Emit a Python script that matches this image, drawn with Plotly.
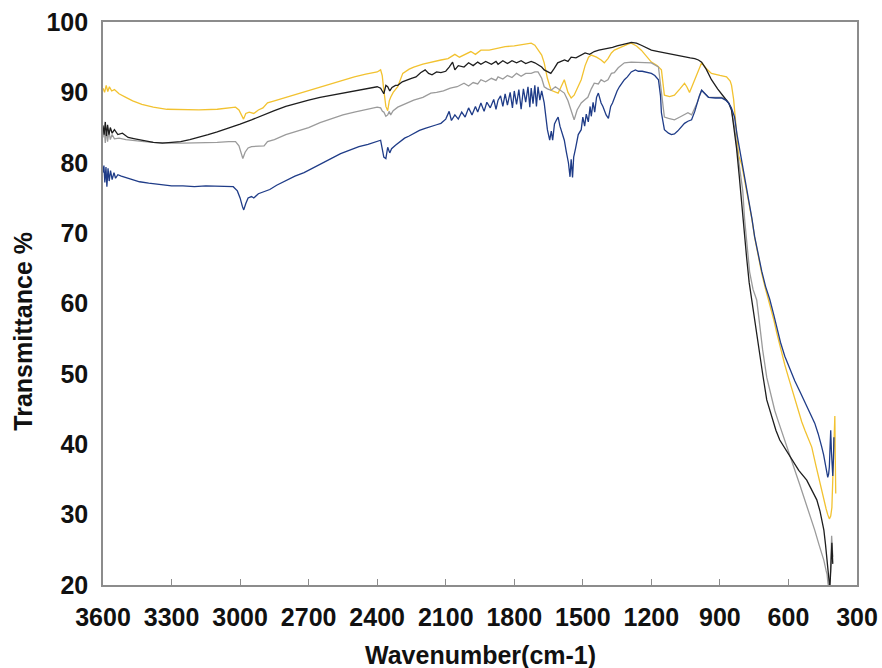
import plotly.graph_objects as go

# FTIR transmittance spectra of four samples (wavenumber in cm-1, transmittance in %)

wn_yellow = [3600, 3593, 3586, 3579, 3572, 3562, 3550, 3530, 3500, 3470, 3430, 3380, 3320, 3250, 3180,
             3100, 3050, 3020, 3005, 2992, 2985, 2975, 2960, 2940, 2920, 2900, 2880, 2850, 2800, 2750,
             2700, 2650, 2600, 2550, 2500, 2450, 2400, 2385, 2378, 2371, 2362, 2354, 2347, 2341, 2330,
             2310, 2298, 2288, 2260, 2240, 2200, 2165, 2121, 2090, 2060, 2040, 2020, 1990, 1970, 1946,
             1910, 1871, 1840, 1800, 1760, 1726, 1710, 1696, 1680, 1669, 1655, 1639, 1620, 1608, 1595,
             1581, 1565, 1551, 1538, 1520, 1507, 1490, 1475, 1463, 1440, 1420, 1406, 1390, 1375, 1362,
             1330, 1300, 1288, 1265, 1244, 1220, 1200, 1175, 1156, 1148, 1143, 1120, 1099, 1075, 1055,
             1045, 1033, 1020, 1000, 980, 960, 937, 900, 871, 855, 849, 840, 830, 818, 805,
             790, 774, 760, 748, 733, 717, 700, 682, 665, 651, 635, 616, 600, 586, 572,
             555, 542, 528, 510, 498, 480, 463, 446, 435, 428, 421, 415, 410, 405, 401,
             397, 395, 393]
t_yellow = [90.6, 90.0, 91.0, 90.1, 90.8, 90.2, 90.4, 89.8, 89.3, 88.8, 88.3, 87.9, 87.6, 87.5, 87.5,
            87.6, 87.8, 87.9, 87.5, 86.5, 86.2, 87.0, 87.2, 87.0, 87.5, 87.8, 88.5, 88.8, 89.3, 89.8,
            90.2, 90.8, 91.3, 91.8, 92.2, 92.6, 92.9, 93.2, 92.4, 90.3, 88.0, 87.4, 88.8, 89.3, 90.0,
            90.8, 92.0, 92.7, 93.3, 93.6, 94.0, 94.3, 94.6, 94.8, 95.4, 95.0, 95.3, 95.8, 95.4, 96.0,
            96.0, 96.3, 96.5, 96.6, 96.8, 97.0, 96.7, 96.0, 95.3, 94.2, 92.0, 90.3, 90.0, 89.9, 90.8,
            91.8, 90.0, 89.2, 89.6, 90.8, 91.8, 93.8, 95.0, 95.3, 95.0, 94.6, 94.2, 94.8, 95.6, 96.0,
            96.5, 96.9, 97.0, 96.6, 96.0, 95.0, 94.3, 93.8, 93.2, 91.0, 89.6, 89.4, 89.6, 90.5, 91.3,
            90.8, 90.0, 91.0, 92.6, 94.2, 93.4, 92.7, 92.4, 92.2, 91.6, 91.0, 89.0, 85.0, 81.0, 79.8,
            77.2, 74.7, 72.0, 69.4, 66.8, 64.3, 62.0, 60.0, 57.8, 55.8, 53.6, 51.3, 49.5, 48.0, 46.5,
            44.5, 43.2, 42.0, 40.5, 39.6, 37.0, 34.5, 32.0, 30.8, 30.0, 29.4, 29.8, 31.0, 36.0, 40.5,
            44.0, 38.0, 33.0]

wn_grey = [3600, 3595, 3590, 3585, 3580, 3574, 3568, 3560, 3550, 3530, 3500, 3460, 3420, 3380, 3340,
           3300, 3250, 3200, 3150, 3100, 3050, 3020, 3005, 2995, 2988, 2978, 2965, 2950, 2930, 2910,
           2895, 2880, 2850, 2800, 2750, 2700, 2650, 2600, 2550, 2500, 2450, 2400, 2385, 2377, 2371,
           2362, 2354, 2347, 2341, 2330, 2310, 2280, 2240, 2200, 2165, 2140, 2110, 2080, 2050, 2020,
           2000, 1980, 1960, 1946, 1925, 1900, 1880, 1871, 1850, 1830, 1810, 1790, 1770, 1750, 1726,
           1710, 1696, 1680, 1669, 1655, 1639, 1620, 1608, 1595, 1581, 1565, 1551, 1538, 1525, 1507,
           1490, 1478, 1463, 1450, 1432, 1420, 1406, 1390, 1375, 1362, 1345, 1318, 1288, 1257, 1230,
           1200, 1169, 1156, 1143, 1125, 1099, 1075, 1055, 1040, 1024, 1000, 980, 960, 950, 920,
           893, 870, 862, 850, 836, 825, 814, 800, 792, 781, 770, 755, 739, 726, 713,
           695, 673, 660, 647, 632, 616, 595, 572, 550, 528, 505, 485, 465, 445, 435,
           431, 427, 421, 416, 411, 406]
t_grey = [83.6, 85.0, 82.8, 84.8, 83.0, 84.5, 83.3, 84.0, 83.4, 83.5, 83.3, 83.1, 83.0, 82.9, 82.8,
          82.8, 82.8, 82.8, 82.8, 82.9, 83.0, 83.0, 82.4, 81.2, 80.6, 81.5, 82.1, 82.3, 82.3, 82.3,
          82.4, 83.0, 83.3, 84.0, 84.5, 85.0, 85.7, 86.3, 86.8, 87.2, 87.6, 87.9, 87.8, 87.3, 87.2,
          86.6, 86.8, 87.3, 86.8, 87.4, 87.9, 88.3, 88.9, 89.3, 89.9, 90.0, 90.2, 90.6, 90.8, 91.3,
          90.9, 91.4, 91.2, 91.8, 91.5, 92.0, 91.7, 92.2, 91.9, 92.4, 92.1, 92.7, 92.3, 92.7, 92.7,
          92.9, 92.9, 92.0, 90.8, 90.5, 90.3, 90.8, 90.5, 90.3, 89.9, 88.8, 87.5, 86.1, 87.5, 88.5,
          89.0, 89.3, 90.5, 91.3, 91.2, 91.8, 91.5, 91.8, 92.7, 92.8, 93.5, 94.2, 94.3, 94.3, 94.3,
          94.2, 93.6, 90.3, 86.5, 86.3, 86.1, 86.5, 86.9, 87.1, 86.8, 88.5, 90.3, 89.7, 89.3, 89.3,
          89.3, 88.9, 88.5, 87.5, 85.0, 82.0, 79.5, 76.0, 72.0, 68.0, 64.5, 62.0, 60.5, 57.0, 53.4,
          49.5, 46.3, 44.8, 43.5, 42.0, 40.6, 38.5, 36.3, 34.2, 32.1, 30.0, 27.8, 25.6, 23.5, 22.0,
          21.5, 20.2, 19.3, 22.0, 27.0, 24.0]

wn_black = [3600, 3595, 3590, 3585, 3580, 3574, 3568, 3560, 3550, 3535, 3515, 3490, 3460, 3420, 3380,
            3340, 3300, 3260, 3220, 3180, 3140, 3100, 3050, 3000, 2950, 2900, 2850, 2800, 2750, 2700,
            2650, 2600, 2550, 2500, 2450, 2400, 2385, 2377, 2371, 2362, 2354, 2345, 2335, 2320, 2310,
            2290, 2270, 2250, 2230, 2210, 2190, 2175, 2160, 2140, 2121, 2100, 2085, 2070, 2060, 2045,
            2020, 2000, 1980, 1960, 1946, 1925, 1900, 1880, 1871, 1850, 1830, 1810, 1790, 1770, 1750,
            1726, 1710, 1696, 1680, 1669, 1655, 1640, 1625, 1610, 1595, 1580, 1565, 1551, 1530, 1507,
            1490, 1470, 1450, 1430, 1410, 1390, 1370, 1350, 1330, 1300, 1288, 1265, 1244, 1220, 1200,
            1169, 1140, 1110, 1080, 1055, 1030, 1010, 994, 980, 960, 937, 910, 879, 860, 849,
            838, 827, 815, 805, 794, 783, 772, 761, 745, 730, 712, 695, 682, 669, 655,
            638, 612, 585, 555, 520, 498, 476, 462, 450, 445, 438, 431, 427, 423, 419,
            415, 410, 406]
t_black = [85.3, 84.0, 85.8, 83.8, 85.4, 84.0, 85.0, 84.2, 84.7, 84.0, 84.2, 83.6, 83.4, 83.1, 82.9,
           82.8, 82.9, 83.0, 83.3, 83.6, 84.0, 84.4, 84.9, 85.5, 86.1, 86.8, 87.4, 88.0, 88.5, 88.9,
           89.3, 89.6, 90.0, 90.3, 90.6, 90.8, 90.6, 90.0, 89.8, 91.0, 90.8, 90.2, 90.7, 91.0, 91.0,
           91.5, 91.8, 92.0, 92.2, 92.8, 93.2, 92.7, 92.5, 92.9, 92.8, 93.0, 93.6, 94.3, 93.2, 93.8,
           93.6, 94.2, 93.8, 94.3, 94.0, 94.4, 94.0, 94.4, 94.0, 94.5, 94.1, 94.5, 94.2, 94.5, 94.1,
           94.4, 94.2, 93.9, 93.6, 93.2, 92.9, 92.7, 93.4, 94.2, 94.4, 94.6, 94.4, 95.0, 94.9, 95.3,
           95.6, 95.4, 95.8, 96.0, 96.1, 96.3, 96.4, 96.6, 96.8, 97.0, 97.1, 97.0, 96.7, 96.3, 96.0,
           95.8, 95.6, 95.4, 95.2, 95.0, 94.9, 94.8, 94.6, 94.3, 93.3, 91.8, 90.5, 89.2, 88.4, 87.5,
           85.0, 82.0, 78.0, 74.0, 70.0, 66.5, 63.0, 60.5, 57.0, 53.4, 49.8, 46.3, 44.8, 43.5, 42.0,
           40.6, 39.2, 37.8, 36.3, 34.9, 33.6, 32.1, 30.5, 28.5, 27.8, 25.8, 23.5, 21.5, 20.3, 19.5,
           22.0, 26.0, 23.0]

wn_blue = [3600, 3596, 3592, 3587, 3583, 3578, 3573, 3567, 3560, 3552, 3545, 3535, 3520, 3500, 3470,
           3440, 3400, 3350, 3300, 3250, 3200, 3150, 3100, 3060, 3030, 3012, 3000, 2990, 2984, 2975,
           2965, 2950, 2940, 2920, 2900, 2870, 2840, 2800, 2760, 2720, 2680, 2640, 2600, 2560, 2520,
           2480, 2440, 2400, 2385, 2378, 2371, 2362, 2354, 2345, 2337, 2320, 2300, 2280, 2260, 2240,
           2215, 2190, 2165, 2140, 2121, 2100, 2085, 2075, 2060, 2045, 2030, 2015, 2000, 1985, 1970,
           1960, 1946, 1932, 1920, 1905, 1890, 1880, 1871, 1860, 1850, 1840, 1830, 1818, 1808, 1800,
           1790, 1780, 1770, 1760, 1750, 1740, 1732, 1726, 1718, 1710, 1703, 1696, 1688, 1680, 1669,
           1660, 1655, 1645, 1638, 1632, 1624, 1615, 1608, 1600, 1590, 1581, 1572, 1563, 1556, 1551,
           1545, 1540, 1532, 1520, 1507, 1500, 1492, 1485, 1476, 1468, 1463, 1455, 1448, 1440, 1432,
           1420, 1412, 1406, 1398, 1388, 1378, 1370, 1362, 1350, 1340, 1330, 1318, 1305, 1288, 1270,
           1257, 1240, 1220, 1200, 1185, 1169, 1160, 1156, 1143, 1125, 1112, 1099, 1085, 1070, 1055,
           1040, 1024, 1010, 1000, 990, 980, 965, 950, 920, 893, 875, 862, 850, 836, 825,
           814, 805, 796, 785, 774, 760, 748, 733, 717, 700, 682, 665, 651, 635, 616,
           595, 572, 550, 528, 505, 485, 470, 463, 455, 446, 437, 428, 424, 421, 418,
           415, 412, 410, 406, 403, 401]
t_blue = [78.6, 79.6, 77.2, 79.4, 76.6, 79.2, 77.4, 78.9, 77.6, 78.6, 77.8, 78.3, 78.1, 77.9, 77.6,
          77.3, 77.1, 76.9, 76.7, 76.7, 76.6, 76.7, 76.7, 76.7, 76.6, 76.0, 75.0, 73.8, 73.3, 74.2,
          75.0, 75.2, 75.0, 75.6, 75.8, 76.2, 76.8, 77.5, 78.1, 78.6, 79.3, 79.9, 80.6, 81.3, 81.8,
          82.3, 82.6, 83.0, 83.2, 82.0, 80.8, 80.6, 82.2, 81.4, 82.0, 82.5, 83.0, 83.5, 83.8, 84.2,
          84.6, 84.9, 85.1, 85.4, 85.6, 86.2, 87.3, 86.0, 86.8, 86.2, 87.2, 86.5, 87.8, 86.8, 88.0,
          87.2, 88.5, 87.3, 88.6, 87.8, 89.0, 87.6, 88.9, 89.5, 88.0, 89.8, 88.2, 90.0, 87.8, 90.2,
          88.3, 90.4, 87.6, 90.5, 88.6, 90.8, 87.9, 90.6, 88.4, 91.0, 88.0, 90.8, 88.9, 90.2, 88.5,
          86.0, 84.7, 83.2, 84.5, 83.2, 85.5, 86.1, 86.5, 85.2, 84.0, 83.2, 81.5, 80.0, 78.0, 80.5,
          77.9, 80.8, 82.0, 84.0, 84.7, 86.5, 85.2, 86.9, 85.8, 88.0, 86.6, 88.6, 87.2, 89.3, 89.9,
          88.5, 88.0, 87.5, 86.8, 86.3, 88.0, 88.5, 89.3, 90.2, 90.8, 91.3, 91.8, 92.2, 92.9, 93.2,
          93.0, 93.0, 92.9, 92.7, 92.4, 91.8, 89.5, 87.1, 84.7, 84.2, 84.0, 84.1, 84.5, 85.0, 85.6,
          85.9, 86.1, 87.3, 88.5, 89.5, 90.3, 89.8, 89.3, 89.2, 89.2, 88.9, 88.5, 87.8, 86.5, 84.0,
          82.0, 80.6, 78.5, 76.6, 74.7, 72.1, 69.5, 67.0, 64.6, 62.4, 60.6, 58.5, 56.5, 54.5, 52.5,
          50.7, 49.0, 47.5, 46.0, 44.5, 43.0, 41.5, 40.8, 39.7, 38.5, 37.0, 35.3, 35.8, 36.8, 39.5,
          42.0, 39.0, 37.0, 35.5, 38.0, 41.0]

x_ticks = [3600, 3300, 3000, 2700, 2400, 2100, 1800, 1500, 1200, 900, 600, 300]
y_ticks = [20, 30, 40, 50, 60, 70, 80, 90, 100]

series = [
    (wn_yellow, t_yellow, "#F2C230"),
    (wn_grey, t_grey, "#9B9B9B"),
    (wn_black, t_black, "#1E1E1E"),
    (wn_blue, t_blue, "#1F3C88"),
]

fig = go.Figure()
for xs, ys, color in series:
    fig.add_trace(go.Scatter(x=xs, y=ys, mode="lines",
                             line=dict(color=color, width=1.3),
                             showlegend=False, hoverinfo="skip"))

label_font = dict(family="Liberation Sans, Arial, sans-serif", size=25, color="#111111", weight="bold")
frame = "#8C8C8C"

fig.update_xaxes(range=[3600, 300], tickvals=x_ticks, ticktext=[str(v) for v in x_ticks],
                 ticks="inside", ticklen=6, tickwidth=1, tickcolor=frame,
                 showline=True, linecolor=frame, linewidth=1.6, mirror=True, automargin=False,
                 showgrid=False, zeroline=False, tickfont=label_font, ticklabelstandoff=9)
fig.update_yaxes(range=[20, 100], tickvals=y_ticks, ticktext=[str(v) for v in y_ticks],
                 ticks="", showline=True, linecolor=frame, linewidth=1.6, mirror=True, automargin=False,
                 showgrid=False, zeroline=False, tickfont=label_font, ticklabelstandoff=8)

fig.add_annotation(text="Wavenumber(cm-1)", xref="paper", yref="paper", x=0.5, y=-0.125,
                   xanchor="center", yanchor="middle", showarrow=False, font=label_font)
fig.add_annotation(text="Transmittance %", xref="paper", yref="paper", x=-0.106, y=0.45,
                   xanchor="center", yanchor="middle", textangle=-90, showarrow=False, font=label_font)

fig.update_layout(width=882, height=668, paper_bgcolor="white", plot_bgcolor="white",
                  margin=dict(l=103, r=25, t=22, b=83, autoexpand=False))

fig.write_html("out.html")
